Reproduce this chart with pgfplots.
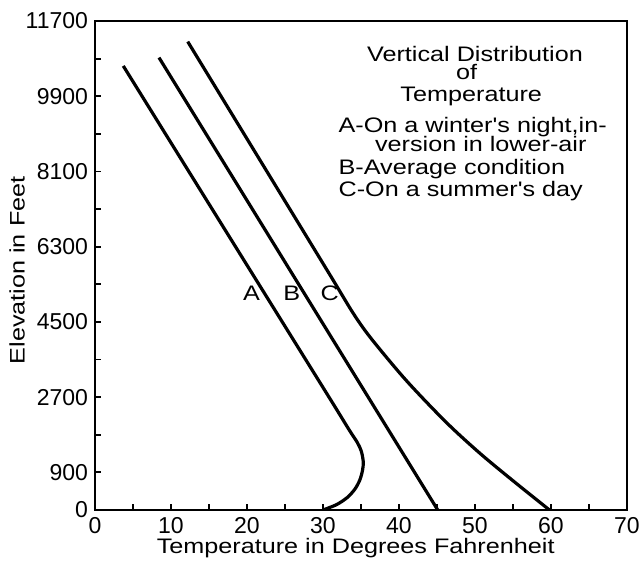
\documentclass[border=0pt]{standalone}
\usepackage{fontspec}
\setmainfont{Liberation Sans}
\newfontfamily\wide{Liberation Sans}[FakeStretch=1.2]
\newcommand{\lf}{\wide\fontsize{10.5}{12}\selectfont}
\usepackage{pgfplots}
\pgfplotsset{compat=1.18}
\begin{document}
\begin{tikzpicture}
\begin{axis}[name=ax, scale only axis, width=266pt, height=244.5pt,
  xmin=0, xmax=70, ymin=0, ymax=11700,
  xtick={0,10,...,70}, minor xtick={5,15,...,65},
  ytick={0,900,2700,4500,6300,8100,9900,11700},
  minor ytick={1800,3600,5400,7200,9000,10800},
  tick pos=left, tick align=inside,
  major tick length=3pt, minor tick length=3pt,
  every tick/.style={black, line width=0.9pt},
  axis line style={line width=1.4pt},
  /pgf/number format/assume math mode=true,
  /pgf/number format/set thousands separator={},
  scaled y ticks=false, scaled x ticks=false,
  ticklabel style={font=\fontsize{11.5}{12}\selectfont},
  xlabel={\lf Temperature in Degrees Fahrenheit}, ylabel={\lf Elevation in Feet},
  every axis x label/.style={at={(axis description cs:0.49,0)}, yshift=-19pt, anchor=center},
  every axis y label/.style={at={(axis description cs:0,0.49)}, xshift=-39pt, rotate=90, anchor=center},
]
\addplot[black, line width=1.6pt, smooth] coordinates {
(3.72,10625) (13.85,7658) (25.3,4307) (31.2,2580) (33.5,1900) (34.5,1620) (35.05,1400) (35.3,1150) (35.2,950) (34.85,720) (34.2,500) (33.2,300) (31.8,130) (30.0,0)};
\addplot[black, line width=1.6pt] coordinates {(8.42,10824) (45.1,0)};
\addplot[black, line width=1.6pt, smooth] coordinates {
(12.2,11207) (24.1,7658) (31.0,5600) (34.0,4700) (36.35,4100) (40.95,3100) (46.2,2100) (50.65,1356) (55.15,678) (59.8,0)};
\begin{scope}[every node/.style={font=\lf, inner sep=0pt}]
\node at (axis cs:20.6,5193) {A};
\node at (axis cs:25.9,5193) {B};
\node at (axis cs:30.9,5193) {C};
\node[anchor=base] at (axis cs:50,10721) {Vertical Distribution};
\node[anchor=base] at (axis cs:48.9,10290) {of};
\node[anchor=base] at (axis cs:49.5,9763) {Temperature};
\node[anchor=base west] at (axis cs:32,9022) {A-On a winter's night,in-};
\node[anchor=base west] at (axis cs:36.8,8567) {version in lower-air};
\node[anchor=base west] at (axis cs:32,8017) {B-Average condition};
\node[anchor=base west] at (axis cs:32,7490) {C-On a summer's day};
\end{scope}
\end{axis}
\pgfresetboundingbox
\path[use as bounding box] ([shift={(-47.5pt,-27.5pt)}]ax.south west) rectangle ([shift={(7pt,10.5pt)}]ax.north east);
\end{tikzpicture}
\end{document}
